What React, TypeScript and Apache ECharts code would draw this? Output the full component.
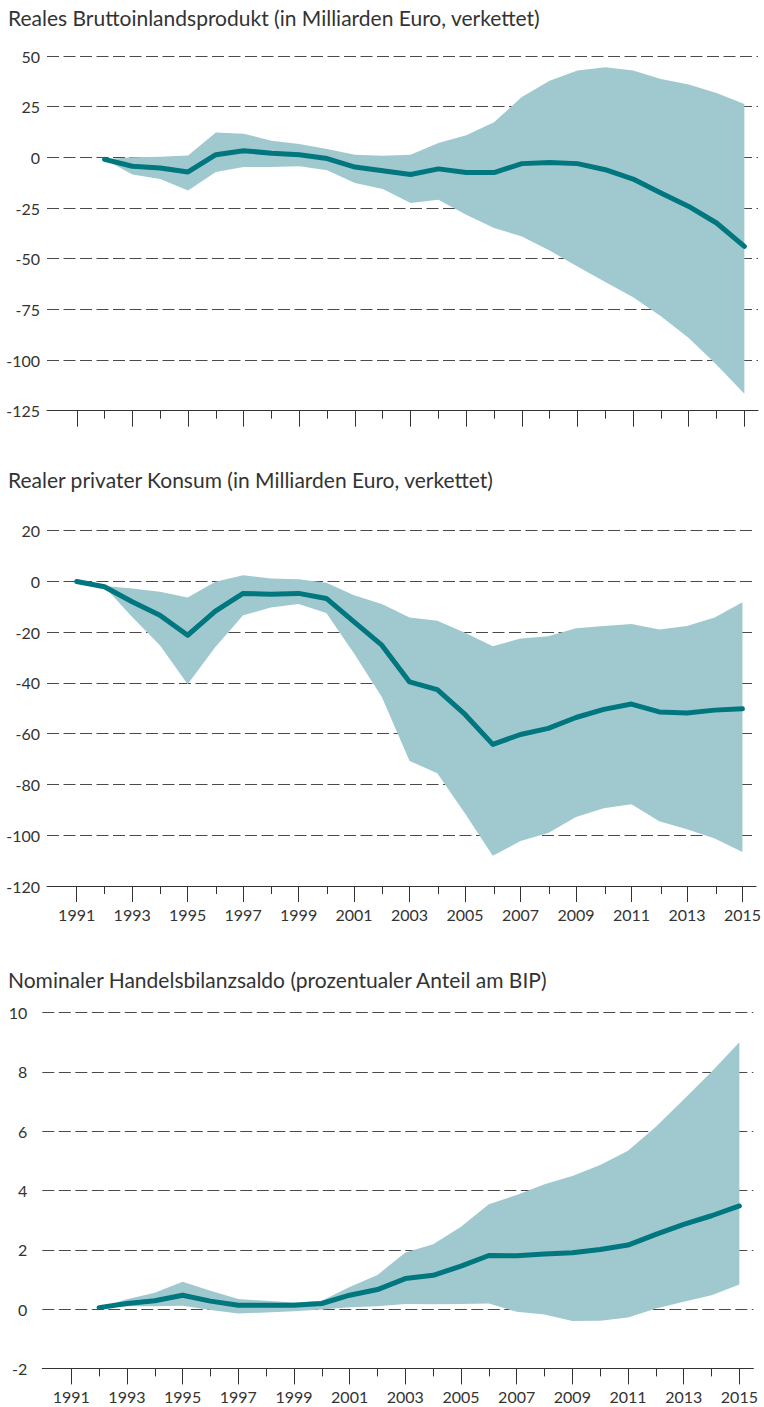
import React, { useEffect, useRef } from "react";
import * as echarts from "echarts";

// ---------- Data ----------
const years92 = [1992, 1993, 1994, 1995, 1996, 1997, 1998, 1999, 2000, 2001, 2002, 2003, 2004, 2005, 2006, 2007, 2008, 2009, 2010, 2011, 2012, 2013, 2014, 2015];
const years91 = [1991, ...years92];

// Panel 1: Reales Bruttoinlandsprodukt
const bipMid = [-1, -4.4, -5.3, -7.2, 1.3, 3.3, 2, 1.3, -0.6, -4.8, -6.6, -8.5, -5.7, -7.5, -7.5, -3.1, -2.6, -3.1, -6.1, -10.7, -17.6, -24.2, -32.4, -43.9];
const bipUpper = [-1, 0, 0.3, 0.9, 12.2, 11.7, 8.2, 6.6, 4.1, 1.3, 0.8, 1.3, 7.1, 10.9, 17.3, 29.8, 37.8, 42.9, 44.4, 42.9, 38.7, 35.9, 31.8, 26.3];
const bipLower = [-1, -8.5, -10.7, -16.4, -7.2, -4.8, -4.8, -4.4, -6.4, -12.6, -15.6, -22.5, -20.9, -28.3, -34.8, -39, -46, -53.8, -61.5, -69, -78.4, -89.1, -102.3, -116.6];

// Panel 2: Realer privater Konsum
const konMid = [0, -2.1, -8, -13.3, -21.2, -11.7, -4.7, -5, -4.7, -6.7, -15.9, -25.1, -39.6, -42.6, -52.4, -64.2, -60.3, -57.9, -53.6, -50.4, -48.3, -51.4, -51.8, -50.7, -50.2];
const konUpper = [0, -1.8, -2.8, -4.1, -6.3, -0.1, 2.4, 1.2, 0.9, -0.5, -5.4, -8.9, -14.2, -15.5, -20.2, -25.5, -22.5, -21.6, -18.4, -17.6, -16.8, -18.9, -17.6, -14.2, -8.2];
const konLower = [0, -2.1, -14, -25.1, -40.5, -25.8, -13.3, -10.3, -8.9, -12.4, -28.4, -45.5, -70.7, -75.6, -91.4, -108.1, -102.3, -99.1, -92.8, -89.4, -87.8, -94.5, -97.6, -101.3, -106.6];

// Panel 3: Nominaler Handelsbilanzsaldo
const hbMid = [0.05, 0.19, 0.28, 0.47, 0.27, 0.13, 0.13, 0.13, 0.19, 0.47, 0.66, 1.03, 1.14, 1.45, 1.81, 1.8, 1.86, 1.9, 2.01, 2.16, 2.52, 2.86, 3.15, 3.48];
const hbUpper = [0.05, 0.33, 0.55, 0.92, 0.62, 0.34, 0.28, 0.22, 0.28, 0.75, 1.15, 1.91, 2.19, 2.78, 3.54, 3.85, 4.21, 4.49, 4.86, 5.34, 6.15, 7.07, 8.01, 9.0];
const hbLower = [0.05, 0.1, 0.1, 0.11, -0.03, -0.15, -0.11, -0.07, -0.01, 0.06, 0.1, 0.17, 0.16, 0.17, 0.19, -0.09, -0.18, -0.4, -0.39, -0.28, 0.02, 0.25, 0.47, 0.83];

const titles = [
  "Reales Bruttoinlandsprodukt (in Milliarden Euro, verkettet)",
  "Realer privater Konsum (in Milliarden Euro, verkettet)",
  "Nominaler Handelsbilanzsaldo (prozentualer Anteil am BIP)",
];

const oddYears = [1991, 1993, 1995, 1997, 1999, 2001, 2003, 2005, 2007, 2009, 2011, 2013, 2015];
const evenYears = [1992, 1994, 1996, 1998, 2000, 2002, 2004, 2006, 2008, 2010, 2012, 2014];

const yRanges = [
  { min: -125, max: 50, interval: 25 },
  { min: -120, max: 20, interval: 20 },
  { min: -2, max: 10, interval: 2 },
];

// ---------- Style ----------
const FONT = "Lato";
const TEXT = "#333333";
const BAND = "#a0c9cf";
const LINE = "#00767e";
const GRID_LINE = "#4a4a4a";

const grids = [
  { left: 47, top: 56, width: 711, height: 354.7, xmin: 1989.93, xmax: 2015.49, labelMargin: 7, showX: false },
  { left: 47, top: 530.7, width: 711, height: 355.3, xmin: 1989.93, xmax: 2015.49, labelMargin: 7, showX: true },
  { left: 42.3, top: 1012.7, width: 711, height: 355.7, xmin: 1989.96, xmax: 2015.5, labelMargin: 15, showX: true },
];

const pairs = (xs: number[], ys: number[]) => xs.map((x, i) => [x, ys[i]]);

export default function App() {
  const ref = useRef<HTMLDivElement>(null);

  useEffect(() => {
    document.body.style.margin = "0";
    if (!ref.current) return;
    const chart = echarts.init(ref.current, null, { renderer: "svg" });

    const panels = [
      { xs: years92, mid: bipMid, up: bipUpper, lo: bipLower },
      { xs: years91, mid: konMid, up: konUpper, lo: konLower },
      { xs: years92, mid: hbMid, up: hbUpper, lo: hbLower },
    ];

    const gridOpt: any[] = [];
    const xAxes: any[] = [];
    const yAxes: any[] = [];
    const series: any[] = [];

    grids.forEach((g, i) => {
      const base = { left: g.left, top: g.top, width: g.width, height: g.height };
      gridOpt.push({ ...base });
      gridOpt.push({ ...base });
      xAxes.push({
        type: "value",
        gridIndex: 2 * i,
        min: g.xmin,
        max: g.xmax,
        axisLine: { show: true, onZero: false, lineStyle: { color: TEXT, width: 1 } },
        axisTick: { show: true, length: 16, customValues: oddYears, lineStyle: { color: TEXT, width: 1 } },
        axisLabel: {
          show: g.showX,
          customValues: oddYears,
          margin: 20,
          color: TEXT,
          fontFamily: FONT,
          fontSize: 16,
          formatter: (v: number) => String(Math.round(v)),
        },
        splitLine: { show: false },
      });
      yAxes.push({
        type: "value",
        gridIndex: 2 * i,
        min: yRanges[i].min,
        max: yRanges[i].max,
        interval: yRanges[i].interval,
        axisLine: { show: false },
        axisTick: { show: false },
        axisLabel: { color: TEXT, fontFamily: FONT, fontSize: 16, margin: g.labelMargin },
        splitLine: { show: true, lineStyle: { color: GRID_LINE, width: 1, type: [12, 4.5] } },
        z: 0,
      });
      // overlay axes for minor ticks
      xAxes.push({
        type: "value",
        gridIndex: 2 * i + 1,
        min: g.xmin,
        max: g.xmax,
        axisLine: { show: false, onZero: false },
        axisTick: { show: true, length: 8, customValues: evenYears, lineStyle: { color: TEXT, width: 1 } },
        axisLabel: { show: false },
        splitLine: { show: false },
      });
      yAxes.push({
        type: "value",
        gridIndex: 2 * i + 1,
        min: yRanges[i].min,
        max: yRanges[i].max,
        show: false,
      });

      const p = panels[i];
      const bandData = p.xs.map((x, k) => [x, p.lo[k], p.up[k]]);
      series.push({
        type: "custom",
        xAxisIndex: 2 * i,
        yAxisIndex: 2 * i,
        data: bandData,
        encode: { x: 0, y: [1, 2] },
        silent: true,
        z: 1,
        renderItem: (params: any, api: any) => {
          if (params.dataIndex !== 0) return null;
          const upperPts = bandData.map((d) => api.coord([d[0], d[2]]));
          const lowerPts = bandData.map((d) => api.coord([d[0], d[1]])).reverse();
          return {
            type: "polygon",
            shape: { points: upperPts.concat(lowerPts) },
            style: { fill: BAND, stroke: "none" },
          };
        },
      });
      series.push({
        type: "line",
        xAxisIndex: 2 * i,
        yAxisIndex: 2 * i,
        data: pairs(p.xs, p.mid),
        symbol: "none",
        lineStyle: { color: LINE, width: 5, cap: "round", join: "round" },
        silent: true,
        z: 3,
      });
    });

    chart.setOption({
      animation: false,
      backgroundColor: "#ffffff",
      title: [
        { text: titles[0], left: 8, top: 7 },
        { text: titles[1], left: 8, top: 469 },
        { text: titles[2], left: 8, top: 969 },
      ].map((t) => ({
        ...t,
        padding: 0,
        textStyle: { color: TEXT, fontFamily: FONT, fontSize: 21, fontWeight: "normal" },
      })),
      grid: gridOpt,
      xAxis: xAxes,
      yAxis: yAxes,
      series,
    });

    return () => chart.dispose();
  }, []);

  return <div ref={ref} style={{ width: 764, height: 1407 }} />;
}
